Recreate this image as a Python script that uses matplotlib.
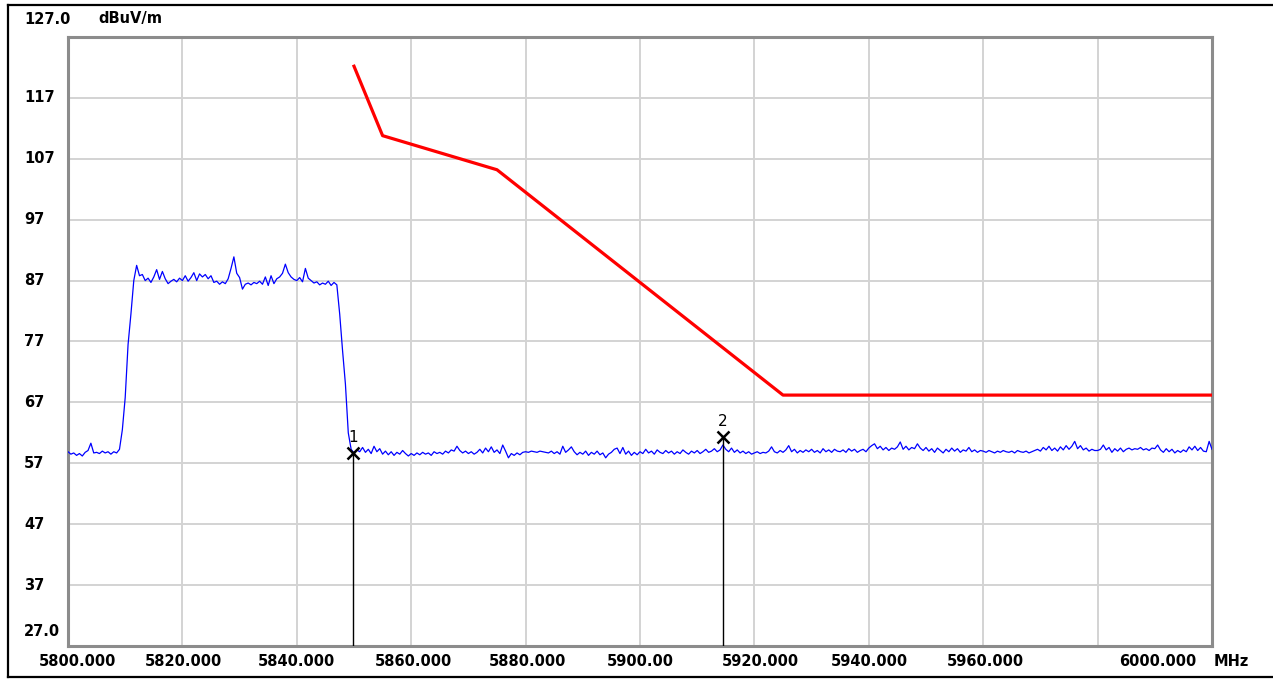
import numpy as np
import matplotlib
matplotlib.use('Agg')
import matplotlib.pyplot as plt
from matplotlib.lines import Line2D

# sweep settings (MHz) and measured level trace (dBuV/m), 0.5 MHz per point
sweep_start = 5800.0
sweep_stop = 6000.0
trace_level = [
    58.9, 58.5, 58.7, 58.3, 58.6, 58.2, 58.8, 59.1, 60.3, 58.7,
    58.8, 58.6, 59.0, 58.7, 58.9, 58.5, 58.9, 58.7, 59.3, 62.5,
    67.8, 76.5, 81.5, 87.0, 89.5, 87.8, 88.0, 87.0, 87.4, 86.7,
    87.6, 88.8, 87.2, 88.5, 87.3, 86.5, 86.9, 87.2, 86.8, 87.4,
    87.0, 87.8, 86.9, 87.5, 88.3, 87.0, 88.1, 87.6, 88.0, 87.3,
    87.8, 86.7, 86.9, 86.4, 86.8, 86.5, 87.3, 89.0, 90.9, 88.2,
    87.5, 85.6, 86.4, 86.6, 86.3, 86.7, 86.5, 86.9, 86.4, 87.6,
    86.2, 87.8, 86.5, 87.3, 87.6, 88.2, 89.7, 88.3, 87.6, 87.2,
    87.0, 87.5, 86.8, 89.0, 87.4, 87.0, 86.6, 86.8, 86.3, 86.6,
    86.4, 86.9, 86.2, 86.7, 86.3, 81.5, 75.5, 70.0, 62.0, 59.3,
    58.7, 59.2, 58.9, 59.6, 58.8, 59.3, 58.6, 59.8, 58.9, 59.4,
    58.5, 59.0, 58.4, 58.9, 58.3, 58.8, 58.5, 59.1, 58.6, 58.2,
    58.6, 58.3, 58.7, 58.4, 58.8, 58.5, 58.7, 58.3, 58.9, 58.6,
    58.8, 58.5, 59.0, 58.7, 59.2, 59.0, 59.8, 59.1, 58.7, 59.0,
    58.6, 58.9, 58.5, 58.8, 59.3, 58.7, 59.5, 58.9, 59.7, 58.8,
    59.2, 58.6, 60.0, 59.0, 57.9, 58.6, 58.3, 58.7, 58.4, 58.8,
    58.9, 58.8, 59.0, 58.9, 58.8, 59.0, 58.9, 58.8, 58.7, 59.0,
    58.6, 58.9, 58.5, 59.8, 58.8, 59.2, 59.7, 58.9, 58.4, 58.8,
    58.5, 59.0, 58.3, 58.8, 58.5, 59.0, 58.4, 58.7, 57.9, 58.5,
    58.8, 59.3, 59.5, 58.6, 59.6, 58.5, 59.0, 58.3, 58.8, 58.4,
    58.9, 58.6, 59.3, 58.7, 59.0, 58.5, 59.2, 58.8, 58.6, 59.1,
    58.7, 59.0, 58.5, 58.9, 58.6, 59.2, 58.8, 58.5, 59.0, 58.7,
    59.1, 58.6, 58.9, 59.3, 58.8, 59.0, 59.4, 58.9, 59.2, 60.0,
    59.3, 58.9, 59.5, 58.8, 59.2, 58.7, 59.0, 58.6, 58.9, 58.5,
    58.7, 58.9, 58.6, 58.8, 58.7, 59.0, 59.7, 58.9, 58.7, 59.1,
    58.8, 59.2, 59.9, 58.9, 59.3, 58.7, 59.1, 58.8, 59.2, 58.9,
    59.3, 58.8, 59.1, 58.7, 59.4, 58.9, 59.2, 58.8, 59.3, 59.0,
    58.9, 59.2, 58.8, 59.4, 59.0, 59.3, 58.8, 59.1, 59.3, 58.9,
    59.5, 59.9, 60.2, 59.4, 59.8, 59.2, 59.6, 59.1, 59.5, 59.3,
    59.7, 60.5, 59.3, 59.8, 59.2, 59.6, 59.4, 60.2, 59.5, 59.1,
    59.6, 59.0, 59.4, 58.8, 59.5, 59.1, 58.7, 59.3, 58.9, 59.5,
    59.0, 59.4, 58.8, 59.2, 59.0, 59.6, 58.9, 59.2, 58.8, 59.1,
    59.0, 58.8, 59.1, 58.9, 58.7, 59.0, 58.8, 59.1, 58.9, 58.8,
    59.0, 58.7, 59.1, 58.9, 58.8, 59.0, 58.7, 58.9, 59.1, 59.3,
    59.0, 59.6, 59.2, 59.8, 59.1, 59.5, 59.0, 59.7, 59.2, 59.9,
    59.3, 59.8, 60.6, 59.4, 59.9, 59.2, 59.5, 59.0, 59.3, 59.1,
    59.1, 59.3, 60.0, 59.2, 59.6, 58.8, 59.4, 59.0, 59.5, 58.9,
    59.3, 59.5, 59.2, 59.4, 59.3, 59.6, 59.2, 59.4, 59.1, 59.5,
    59.4, 60.0, 59.2, 58.8, 59.4, 58.9, 59.3, 58.7, 59.1, 58.8,
    59.2, 58.9, 59.7, 59.2, 59.8, 59.1, 59.6, 59.0, 58.9, 60.6,
    59.3,
]

# limit line (red)
limit_freq = [5850, 5855, 5875, 5925, 6000]
limit_level = [122.2, 110.8, 105.2, 68.2, 68.2]

# markers
marker_freq = [5849.8, 5914.5]
marker_level = [58.7, 61.3]
marker_names = ['1', '2']

# axis labels
y_ticks = [117, 107, 97, 87, 77, 67, 57, 47, 37]
x_grid = [5820, 5840, 5860, 5880, 5900, 5920, 5940, 5960, 5980]
x_label_pos = [5800, 5820, 5840, 5860, 5880, 5900, 5920, 5940, 5960, 6000]
x_label_txt = ['5800.000', '5820.000', '5840.000', '5860.000', '5880.000',
               '5900.00', '5920.000', '5940.000', '5960.000', '6000.000']
x_label_shift = [10, 1, 0, 2, 2, 0, 6, 1, 2, -54]  # pixels

W, H = 1273, 679
fig = plt.figure(figsize=(W / 100, H / 100), dpi=100)
ax = fig.add_axes([68 / W, 1 - 646 / H, 1144 / W, 609 / H])

freq = np.linspace(sweep_start, sweep_stop, len(trace_level))
ax.plot(freq, trace_level, color='#0000ff', lw=0.9, zorder=3)
ax.plot(limit_freq, limit_level, color='#ff0000', lw=2.3, zorder=4)

for f, l, n in zip(marker_freq, marker_level, marker_names):
    ax.plot([f, f], [27, l], color='black', lw=1.0, zorder=5)
    ax.plot(f, l, marker='x', color='black', ms=8, mew=1.8, zorder=6)
    ax.annotate(n, (f, l), xytext=(0, 8), textcoords='offset pixels',
                ha='center', va='bottom', fontsize=11, color='black')

ax.set_xlim(5800, 6000)
ax.set_ylim(27, 127)
ax.set_xticks(x_grid)
ax.set_yticks(y_ticks)
ax.tick_params(length=0, labelbottom=False, labelleft=False)
ax.grid(True, color='#d3d3d3', lw=1.4)
ax.set_axisbelow(True)
for s in ax.spines.values():
    s.set_color('#8c8c8c')
    s.set_linewidth(2.2)

txt = dict(fontsize=10.5, fontweight='bold', family='DejaVu Sans', color='black')

# y labels
for v in y_ticks:
    ax.annotate(str(v), (24, v), xycoords=('figure pixels', 'data'),
                ha='left', va='center', **txt)
ax.annotate('127.0', (24, 127), xycoords=('figure pixels', 'data'),
            xytext=(0, 18), textcoords='offset pixels', ha='left', va='center', **txt)
ax.annotate('dBuV/m', (98, 127), xycoords=('figure pixels', 'data'),
            xytext=(0, 18), textcoords='offset pixels', ha='left', va='center', **txt)
ax.annotate('27.0', (24, 27), xycoords=('figure pixels', 'data'),
            xytext=(0, 15), textcoords='offset pixels', ha='left', va='center', **txt)

# x labels
for p, t, d in zip(x_label_pos, x_label_txt, x_label_shift):
    ax.annotate(t, (p, 27), xycoords='data', xytext=(d, -15),
                textcoords='offset pixels', ha='center', va='center',
                annotation_clip=False, **txt)
ax.annotate('MHz', (1214, 27), xycoords=('figure pixels', 'data'), xytext=(0, -15),
            textcoords='offset pixels', ha='left', va='center', **txt)

# outer frame
fig.add_artist(Line2D([7.5 / W, 7.5 / W], [1 - 5 / H, 1 - 677 / H], color='black', lw=1.6))
fig.add_artist(Line2D([7.5 / W, 1.0], [1 - 5 / H, 1 - 5 / H], color='black', lw=1.6))
fig.add_artist(Line2D([7.5 / W, 1.0], [1 - 677 / H, 1 - 677 / H], color='black', lw=1.6))

fig.savefig('out.png', dpi=100)
